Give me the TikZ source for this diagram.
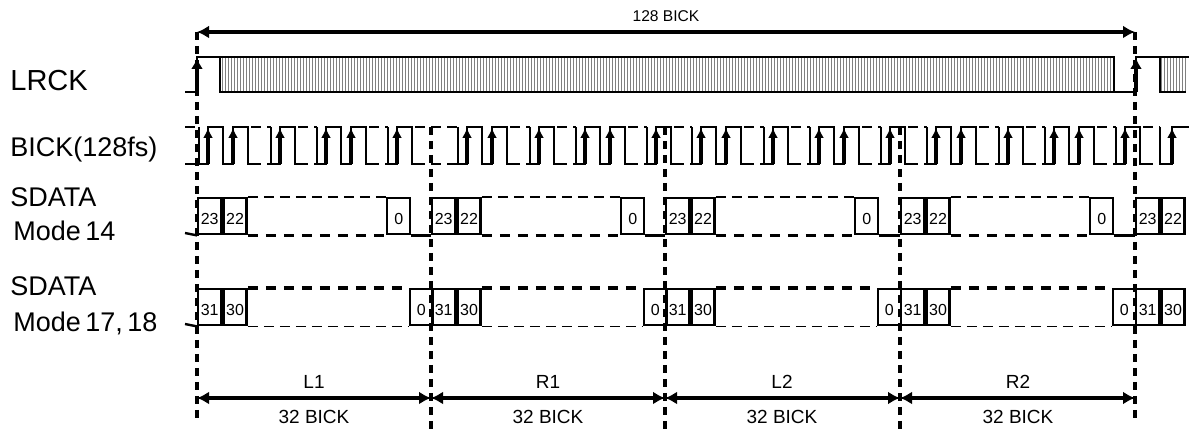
\documentclass[tikz,border=0pt]{standalone}
\usepackage{fontspec}
\setmainfont{Liberation Sans}
\usetikzlibrary{arrows.meta,patterns.meta,positioning}

\begin{document}
\begin{tikzpicture}[x=0.5pt,y=-0.5pt,node distance=0pt,
                    sig/.style={line width=1.2pt},
                    up/.style={-{Latex[length=5pt,width=5pt]},line width=1.7pt},
                    lrup/.style={-{Latex[length=5.5pt,width=6pt]},line width=1.7pt},
                    dim/.style={{Latex[length=6pt,width=6.5pt]}-{Latex[length=6pt,width=6.5pt]},line width=1.8pt},
                    bound/.style={line width=1.8pt,dash pattern=on 4pt off 3pt},
                    gap/.style={line width=0.6pt,dash pattern=on 5pt off 3pt},
                    fat/.style={line width=1.8pt,dash pattern=on 5pt off 4pt},
                    bit/.style={draw,line width=1.2pt,minimum width=11.5pt,minimum height=18pt,
                                inner sep=0pt,anchor=north west,text height=8pt,text depth=0pt,
                                font=\fontsize{8}{9}\selectfont},
                    sig name/.style={anchor=west,inner sep=0pt,font=\fontsize{13.5}{16}\selectfont},
                    small/.style={inner sep=0pt,font=\fontsize{7.8}{9}\selectfont},
                    mid/.style={inner sep=0pt,font=\fontsize{9.5}{11}\selectfont}]

\useasboundingbox (0,0) rectangle (1189,432);

% signal names
\node[sig name] (lrck) at (10,81) {\fontsize{14.5}{17}\selectfont LRCK};
\node[sig name] (bick) at (10,150) {BICK(128fs)};
\node[sig name] (sd1) at (10,197) {SDATA};
\node[sig name] (md1) at (13,231) {Mode\,14};
\node[sig name] (sd2) at (10,286) {SDATA};
\node[sig name] (md2) at (13,323) {Mode\,17,\,18};

% LRCK
\fill[pattern={Lines[angle=90,distance=1.5pt,line width=0.5pt]},pattern color=gray]
  (220,57) rectangle (1114,92);
\fill[pattern={Lines[angle=90,distance=1.5pt,line width=0.5pt]},pattern color=gray]
  (1160,57) rectangle (1186,92);
\draw[sig] (185,92) -- (197,92) -- (197,57) -- (1114,57) -- (1114,92) -- (1136,92)
  -- (1136,57) -- (1189,57);
\draw[sig] (220,57) -- (220,92) -- (1114,92);
\draw[sig] (1160,57) -- (1160,92) -- (1186,92);
\draw[lrup] (197,92) -- (197,58);
\draw[lrup] (1136,92) -- (1136,58);

% BICK
\foreach \r/\n [evaluate=\r as \s using int(\r-9),
                evaluate=\n as \e using int(\r+25*\n-7),
                remember=\e as \pe (initially 185)] in
  {208/2,280/1,326/2,397/1, 467/2,539/1,585/2,656/1,
   701/2,773/1,819/2,890/1, 936/2,1008/1,1054/2,1125/1}{
  \draw[gap] (\pe,127) -- (\s,127) (\pe,164) -- (\s,164);
  \draw[sig] (\s,127) -- (\s,164)
    \foreach \k in {1,...,\n}{ -- (\r+25*\k-25,164) -- (\r+25*\k-25,127)
      -- (\r+25*\k-10,127) -- (\r+25*\k-10,164)} -- (\e,164);
  \foreach \k in {1,...,\n}
    \draw[up] (\r+25*\k-25,164) -- (\r+25*\k-25,128);
}
\draw[gap] (1143,127) -- (1160,127) (1143,164) -- (1160,164);
\draw[sig] (1160,127) -- (1160,164) -- (1172,164) -- (1172,127) -- (1189,127);
\draw[up] (1172,164) -- (1172,128);

% SDATA
\foreach \i/\S in {1/197,2/431,3/665,4/900}{
  \node[bit] (a\i) at (\S,197) {23};
  \node[bit,right=of a\i] (b\i) {22};
  \node[bit] (z\i) at (\S+189,197) {0};
  \draw[gap] (b\i.north east) -- (z\i.north west);
  \draw[fat] (b\i.south east) -- (z\i.south west);
  \node[bit] (c\i) at (\S,288) {31};
  \node[bit,right=of c\i] (d\i) {30};
  \node[bit] (y\i) at (\S+211.5,288) {0};
  \draw[fat] (d\i.north east) -- (y\i.north west);
  \draw[gap] (d\i.south east) -- (y\i.south west);
}
\node[bit] (a5) at (1135,197) {23};
\node[bit,right=of a5] (b5) {22};
\node[bit] (c5) at (1135,288) {31};
\node[bit,right=of c5] (d5) {30};

\coordinate (s14) at (185,233);
\coordinate (s17) at (185,324);
\draw[sig] (s14) -- (a1.south west);
\draw[sig] (s17) -- (c1.south west);
\foreach \i/\j in {1/2,2/3,3/4,4/5}
  \draw[sig] (z\i.south east) -- (a\j.south west);

% frame lines
\coordinate (v0) at (197,32);
\coordinate (w0) at (197,418);
\coordinate (v1) at (431,127);
\coordinate (w1) at (431,432);
\coordinate (v2) at (665,127);
\coordinate (w2) at (665,432);
\coordinate (v3) at (900,127);
\coordinate (w3) at (900,432);
\coordinate (v4) at (1135,32);
\coordinate (w4) at (1135,422);
\foreach \i in {0,...,4}
  \draw[bound] (v\i) -- (w\i);

\draw[dim] (v0) -- (v4);
\node[small] (n128) at (666,16) {128 BICK};

\coordinate (p0) at (197,398);
\coordinate (p1) at (431,398);
\coordinate (p2) at (665,398);
\coordinate (p3) at (900,398);
\coordinate (p4) at (1135,398);
\draw[dim] (p0) -- (p1);
\draw[dim] (p1) -- (p2);
\draw[dim] (p2) -- (p3);
\draw[dim] (p3) -- (p4);

\node[mid] (l1) at (314,382) {L1};
\node[mid] (r1) at (548,382) {R1};
\node[mid] (l2) at (782,382) {L2};
\node[mid] (r2) at (1018,382) {R2};
\node[mid] (c1) at (314,417) {32 BICK};
\node[mid] (c2) at (548,417) {32 BICK};
\node[mid] (c3) at (782,417) {32 BICK};
\node[mid] (c4) at (1018,417) {32 BICK};

\end{tikzpicture}
\end{document}
